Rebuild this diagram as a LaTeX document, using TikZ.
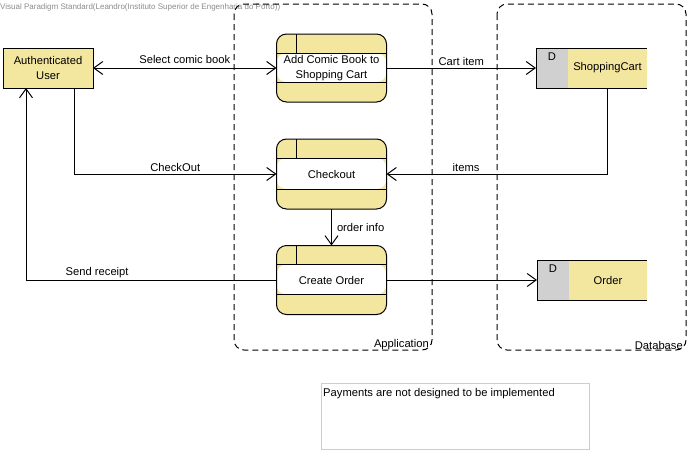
\documentclass[tikz,border=0pt]{standalone}
\usepackage{fontspec}
\setmainfont{Liberation Sans}
\usetikzlibrary{arrows.meta}
\definecolor{procyellow}{RGB}{243,231,160}
\definecolor{storegray}{RGB}{208,208,208}
\definecolor{notegray}{RGB}{205,205,205}
\definecolor{wmgray}{RGB}{140,140,140}
\tikzset{
  base/.style={font=\fontsize{11.2}{14.5}\selectfont},
  flow/.style={line width=1pt, -{Straight Barb[length=9pt,width=13pt,line width=1pt]}},
  flowboth/.style={line width=1pt, {Straight Barb[length=9pt,width=13pt,line width=1pt]}-{Straight Barb[length=9pt,width=13pt,line width=1pt]}},
  entity/.style={draw, line width=1pt, fill=procyellow, minimum width=90pt, minimum height=40pt, inner sep=0pt, outer sep=0pt, align=center},
  proc/.style={draw, line width=1pt, rounded corners=10pt, fill=procyellow, minimum width=110pt, minimum height=69pt, inner sep=0pt, outer sep=0pt, align=center,
    path picture={
      \fill[white] ([yshift=-19pt]path picture bounding box.north west) rectangle ([yshift=20pt]path picture bounding box.south east);
      \draw[line width=1pt] ([yshift=-19pt]path picture bounding box.north west) -- ([yshift=-19pt]path picture bounding box.north east);
      \draw[line width=1pt] ([yshift=20pt]path picture bounding box.south west) -- ([yshift=20pt]path picture bounding box.south east);
      \draw[line width=1pt] ([xshift=20pt]path picture bounding box.north west) -- ([xshift=20pt,yshift=-19pt]path picture bounding box.north west);
    }},
  storeid/.style={draw, line width=1pt, fill=storegray, minimum width=32pt, minimum height=40pt, inner sep=0pt, outer sep=0pt},
  storename/.style={fill=procyellow, minimum width=79pt, minimum height=40pt, inner sep=0pt, outer sep=0pt},
  container/.style={draw, line width=1pt, dash pattern=on 6pt off 4pt, rounded corners=10pt},
  lbl/.style={inner sep=2pt},
}
\begin{document}
\begin{tikzpicture}[x=1pt,y=-1pt,base]
\useasboundingbox (0,0) rectangle (690,453);
\fill[white] (0,0) rectangle (690,453);

% watermark
\node[anchor=west, text=wmgray, font=\fontsize{8}{9}\selectfont, inner sep=0pt] (wm) at (0,7) {Visual Paradigm Standard(Leandro(Instituto Superior de Engenharia do Porto))};

% containers
\draw[container] (234,4) rectangle (432,350);
\node[anchor=south east, inner sep=1pt] (applbl) at (430,351) {Application};
\draw[container] (497,4) rectangle (686,350);
\node[anchor=south east, inner sep=1pt] (dblbl) at (684,351) {Database};

% external entity
\node[entity] (u) at (48,68) {Authenticated\\User};

% processes
\node[proc, minimum height=68pt] (add) at (331.5,68) {Add Comic Book to\\Shopping Cart};
\node[proc, minimum height=70pt] (chk) at (331.5,174) {Checkout};
\node[proc, minimum height=69pt] (cro) at (331.5,280) {Create Order};

% data stores
\node[storeid, anchor=north west] (scD) at (536,48) {};
\node[anchor=north, inner sep=0pt] (scDt) at ([yshift=-5pt]scD.north) {D};
\node[storename, anchor=west] (sc) at (scD.east) {ShoppingCart};
\draw[line width=1pt] (scD.north east) -- (sc.north east);
\draw[line width=1pt] (scD.south east) -- (sc.south east);

\node[storeid, anchor=north west] (orD) at (537,260) {};
\node[anchor=north, inner sep=0pt] (orDt) at ([yshift=-5pt]orD.north) {D};
\node[storename, minimum width=78pt, anchor=west] (or) at (orD.east) {Order};
\draw[line width=1pt] (orD.north east) -- (or.north east);
\draw[line width=1pt] (orD.south east) -- (or.south east);

% note
\node[draw=notegray, line width=1pt, minimum width=268pt, minimum height=66pt, anchor=north west, inner sep=0pt] (note) at (321,383) {};
\node[anchor=north west, inner sep=0pt] (notetxt) at ([xshift=2pt,yshift=-5pt]note.north west) {Payments are not designed to be implemented};

% flows
\draw[flowboth] (u.east) -- node[lbl, above, yshift=2pt] {Select comic book} (add.west);
\draw[flow] (add.east) -- node[lbl, above] {Cart item} (scD.west);
\draw[flow] ([xshift=71pt]u.south west) |- node[lbl, pos=0.75, above] {CheckOut} (chk.west);
\draw[flow] (sc.south) |- node[lbl, pos=0.82, above] {items} (chk.east);
\draw[flow] (chk.south) -- node[lbl, right, xshift=3pt] {order info} (cro.north);
\draw[flow] (cro.west) -| node[lbl, pos=0.358, above] {Send receipt} ([xshift=23pt]u.south west);
\draw[flow] (cro.east) -- (orD.west);
\end{tikzpicture}
\end{document}
